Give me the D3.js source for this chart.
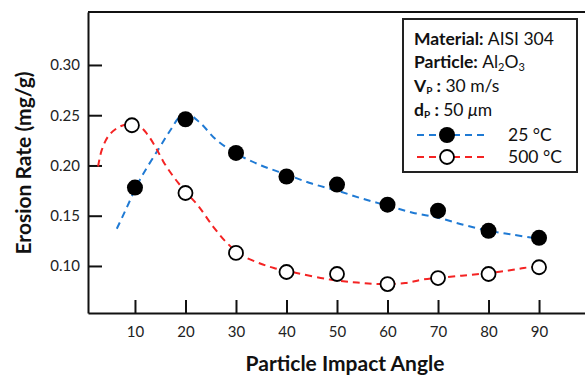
<!DOCTYPE html>
<html>
<head>
<meta charset="utf-8">
<script src="https://cdn.jsdelivr.net/npm/d3@7"></script>
<style>
  body { margin: 0; background: #fff; }
  svg { display: block; font-family: Lato, "Open Sans", sans-serif; }
</style>
</head>
<body>
<svg id="chart"></svg>
<script>
var w = 585;
var h = 376;

// measured points
var angles25 = [10, 20, 30, 40, 50, 60, 70, 80, 90];
var rate25 = [0.178, 0.246, 0.2125, 0.189, 0.181, 0.161, 0.155, 0.135, 0.128];
var angles500 = [9.4, 20, 30, 40, 50, 60, 70, 80, 90];
var rate500 = [0.240, 0.1726, 0.113, 0.094, 0.092, 0.082, 0.088, 0.092, 0.0987];

// dashed fit curves
var fit25X = [6.4, 8, 11, 14.5, 17, 19, 20.5, 23, 26, 30, 35, 40, 45, 50, 55, 60, 65, 70, 75, 80, 85, 90];
var fit25Y = [0.137, 0.154, 0.186, 0.215, 0.235, 0.249, 0.251, 0.242, 0.226, 0.212, 0.200, 0.191, 0.182, 0.175, 0.167, 0.160, 0.153, 0.148, 0.141, 0.135, 0.131, 0.127];
var fit500X = [2.7, 3.4, 4.7, 6.4, 8, 9.5, 11, 12.3, 14, 15.6, 17.6, 20, 22.5, 25.5, 28.2, 31, 34.5, 37.5, 42, 48.6, 54, 58.5, 63.5, 67, 72, 76, 80, 84, 87, 90];
var fit500Y = [0.199, 0.215, 0.229, 0.237, 0.2405, 0.241, 0.2386, 0.232, 0.219, 0.204, 0.189, 0.174, 0.160, 0.139, 0.123, 0.111, 0.103, 0.098, 0.093, 0.0865, 0.0835, 0.082, 0.083, 0.0865, 0.089, 0.091, 0.093, 0.0955, 0.098, 0.100];

var xTicks = [10, 20, 30, 40, 50, 60, 70, 80, 90];
var yTicks = [0.10, 0.15, 0.20, 0.25, 0.30];

var blue = '#1f7ad4';
var red = '#f42323';

var svg = d3.select('#chart').attr('width', w).attr('height', h);

var x = d3.scaleLinear().domain([0.7, 99.1]).range([88, 585]);
var y = d3.scaleLinear().domain([0.0532, 0.3527]).range([313, 12]);

// frame top
svg.append('line')
  .attr('x1', x.range()[0]).attr('x2', x.range()[1])
  .attr('y1', y.range()[1]).attr('y2', y.range()[1])
  .attr('stroke', '#111').attr('stroke-width', 2);

var yAxis = svg.append('g')
  .attr('transform', 'translate(' + x.range()[0] + ',0)')
  .call(d3.axisLeft(y).tickValues(yTicks).tickFormat(d3.format('.2f'))
    .tickSizeInner(-14).tickSizeOuter(0).tickPadding(8));

var xAxis = svg.append('g')
  .attr('transform', 'translate(0,' + y.range()[0] + ')')
  .call(d3.axisBottom(x).tickValues(xTicks)
    .tickSizeInner(-13).tickSizeOuter(0).tickPadding(13));

[xAxis, yAxis].forEach(function (a) {
  a.select('.domain').attr('stroke', '#111').attr('stroke-width', 2);
  a.selectAll('.tick line').attr('stroke', '#111').attr('stroke-width', 2);
  a.selectAll('.tick text').attr('fill', '#222').style('font-size', '15px').style('font-family', 'Lato, sans-serif');
});

// titles
svg.append('text')
  .attr('transform', 'translate(31,163) rotate(-90)')
  .attr('text-anchor', 'middle')
  .style('font-size', '21px').style('font-weight', 'bold')
  .attr('fill', '#111')
  .text('Erosion Rate (mg/g)');

svg.append('text')
  .attr('x', 345).attr('y', 371)
  .attr('text-anchor', 'middle')
  .style('font-size', '21px').style('font-weight', 'bold')
  .attr('fill', '#111')
  .text('Particle Impact Angle');

// fit curves
var line = d3.line()
  .x(function (d) { return x(d[0]); })
  .y(function (d) { return y(d[1]); })
  .curve(d3.curveCatmullRom.alpha(0.5));

svg.append('path')
  .datum(d3.zip(fit25X, fit25Y))
  .attr('d', line)
  .attr('fill', 'none').attr('stroke', blue).attr('stroke-width', 2)
  .attr('stroke-dasharray', '7,5');

svg.append('path')
  .datum(d3.zip(fit500X, fit500Y))
  .attr('d', line)
  .attr('fill', 'none').attr('stroke', red).attr('stroke-width', 2)
  .attr('stroke-dasharray', '7,5');

// markers
svg.append('g').selectAll('circle')
  .data(d3.zip(angles25, rate25))
.enter().append('circle')
  .attr('cx', function (d) { return x(d[0]); })
  .attr('cy', function (d) { return y(d[1]); })
  .attr('r', 8)
  .attr('fill', '#000');

svg.append('g').selectAll('circle')
  .data(d3.zip(angles500, rate500))
.enter().append('circle')
  .attr('cx', function (d) { return x(d[0]); })
  .attr('cy', function (d) { return y(d[1]); })
  .attr('r', 7)
  .attr('fill', '#fff')
  .attr('stroke', '#000').attr('stroke-width', 1.8);

// legend box
var lg = svg.append('g');
lg.append('rect')
  .attr('x', 403).attr('y', 19).attr('width', 174).attr('height', 153)
  .attr('fill', '#fff').attr('stroke', '#222').attr('stroke-width', 2);

var fs = '17.5px';
var sub = '11px';
var t1 = lg.append('text').attr('x', 414).attr('y', 45).style('font-size', fs).attr('fill', '#111');
t1.append('tspan').style('font-weight', 'bold').text('Material: ');
t1.append('tspan').text('AISI 304');

var t2 = lg.append('text').attr('x', 414).attr('y', 68).style('font-size', fs).attr('fill', '#111');
t2.append('tspan').style('font-weight', 'bold').text('Particle: ');
t2.append('tspan').text('Al');
t2.append('tspan').style('font-size', sub).attr('dy', 3).text('2');
t2.append('tspan').attr('dy', -3).text('O');
t2.append('tspan').style('font-size', sub).attr('dy', 3).text('3');

var t3 = lg.append('text').attr('x', 414).attr('y', 92).style('font-size', fs).attr('fill', '#111');
t3.append('tspan').style('font-weight', 'bold').text('V');
t3.append('tspan').style('font-weight', 'bold').style('font-size', '10px').attr('dy', 2).text('P');
t3.append('tspan').attr('dy', -2).style('font-weight', 'bold').text(' : ');
t3.append('tspan').text('30 m/s');

var t4 = lg.append('text').attr('x', 414).attr('y', 116).style('font-size', fs).attr('fill', '#111');
t4.append('tspan').style('font-weight', 'bold').text('d');
t4.append('tspan').style('font-weight', 'bold').style('font-size', '10px').attr('dy', 2).text('P');
t4.append('tspan').attr('dy', -2).style('font-weight', 'bold').text(' : ');
t4.append('tspan').text('50 ');
t4.append('tspan').style('font-style', 'italic').text('\u03bc');
t4.append('tspan').text('m');

var legendRows = [
  {y: 135, color: blue, fill: '#000', label: '25 \u00b0C'},
  {y: 157, color: red, fill: '#fff', label: '500 \u00b0C'}
];
legendRows.forEach(function (r) {
  lg.append('line')
    .attr('x1', 417).attr('x2', 486).attr('y1', r.y).attr('y2', r.y)
    .attr('stroke', r.color).attr('stroke-width', 2).attr('stroke-dasharray', '7,5');
  lg.append('circle')
    .attr('cx', 447).attr('cy', r.y).attr('r', r.fill === '#000' ? 8 : 7)
    .attr('fill', r.fill).attr('stroke', '#000').attr('stroke-width', r.fill === '#000' ? 0 : 1.8);
  lg.append('text')
    .attr('x', 508).attr('y', r.y + 6)
    .style('font-size', fs).attr('fill', '#111')
    .text(r.label);
});
</script>
</body>
</html>
